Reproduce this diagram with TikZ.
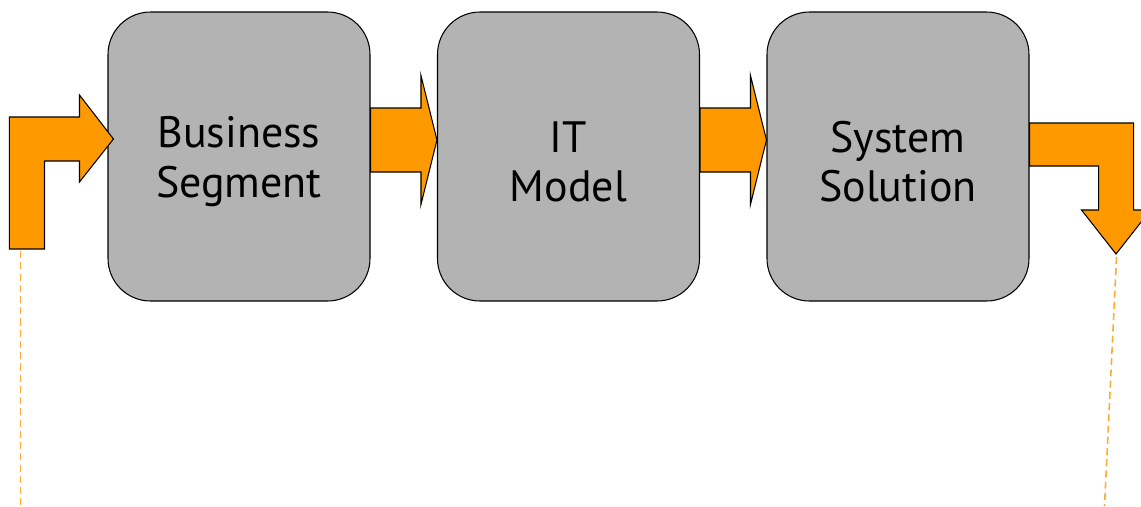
\documentclass[tikz,border=0pt]{standalone}
\usepackage{fontspec}
\setmainfont{PT Sans}
\usetikzlibrary{calc}

\definecolor{boxgray}{HTML}{B3B3B3}
\definecolor{floworange}{HTML}{FF9900}
\definecolor{tracelight}{HTML}{FFAA33}

\begin{document}
\begin{tikzpicture}
\tikzset{
stage/.style={rectangle,rounded corners=0.85cm,draw=black,fill=boxgray,line width=0.6pt,
minimum width=5.24cm,minimum height=5.78cm,align=center,inner sep=0pt,text height=51.5pt,
font=\fontsize{25}{28}\selectfont,node distance=6.59cm},
flow/.style={draw=black,fill=floworange,line width=0.6pt,line join=miter},
trace/.style={draw=tracelight,line width=0.9pt,dash pattern=on 4pt off 2.4pt},
}
\clip (0,0) rectangle (22.82,-10.12);

\node [stage] at (4.78,-3.13) (segment) {Business\\Segment};
\node [stage, right of=segment] (model) {IT\\Model};
\node [stage, right of=model] (solution) {System\\Solution};

% arrows between the stages
\draw[flow] ($(segment.east)+(0,0.97)$) -- ($(model.west)+(-0.32,0.97)$) -- ($(model.west)+(-0.32,1.62)$)
  -- ($(model.west)+(0,0.33)$) -- ($(model.west)+(-0.32,-0.96)$) -- ($(model.west)+(-0.32,-0.31)$)
  -- ($(segment.east)+(0,-0.31)$) -- cycle;
\draw[flow] ($(model.east)+(0,0.97)$) -- ($(solution.west)+(-0.32,0.97)$) -- ($(solution.west)+(-0.32,1.62)$)
  -- ($(solution.west)+(0,0.33)$) -- ($(solution.west)+(-0.32,-0.96)$) -- ($(solution.west)+(-0.32,-0.31)$)
  -- ($(model.east)+(0,-0.31)$) -- cycle;

% bent arrow in
\draw[flow] ($(segment.west)+(-1.96,-1.85)$) -- ($(segment.west)+(-1.96,0.79)$) -- ($(segment.west)+(-0.56,0.79)$)
  -- ($(segment.west)+(-0.56,1.23)$) -- ($(segment.west)+(0.12,0.35)$) -- ($(segment.west)+(-0.56,-0.51)$)
  -- ($(segment.west)+(-0.56,-0.09)$) -- ($(segment.west)+(-1.26,-0.09)$) -- ($(segment.west)+(-1.26,-1.85)$) -- cycle;

% bent arrow out
\draw[flow] ($(solution.east)+(0,0.67)$) -- ($(solution.east)+(2.08,0.67)$) -- ($(solution.east)+(2.08,-1.07)$)
  -- ($(solution.east)+(2.42,-1.07)$) -- ($(solution.east)+(1.73,-1.95)$) -- ($(solution.east)+(1.04,-1.07)$)
  -- ($(solution.east)+(1.38,-1.07)$) -- ($(solution.east)+(1.38,-0.19)$) -- ($(solution.east)+(0,-0.19)$) -- cycle;

% dashed traces
\coordinate (intop) at ($(segment.west)+(-1.74,-1.89)$);
\coordinate (inbot) at ($(segment.west)+(-1.74,-6.99)$);
\coordinate (outtop) at ($(solution.east)+(1.74,-2.01)$);
\coordinate (outbot) at ($(solution.east)+(1.50,-6.99)$);
\draw[trace] (intop) -- (inbot);
\draw[trace] (outtop) -- (outbot);
\end{tikzpicture}
\end{document}
